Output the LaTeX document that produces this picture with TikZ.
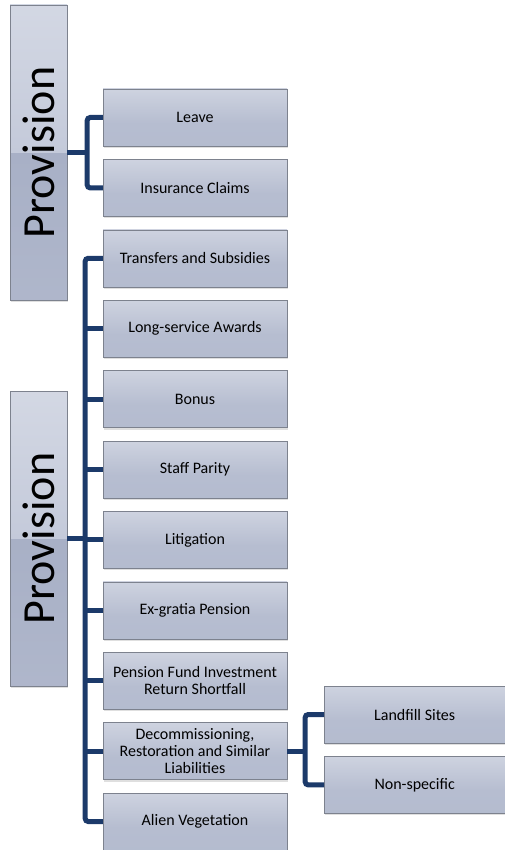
\documentclass[tikz,border=0pt]{standalone}
\usepackage{fontspec}
\setmainfont{Carlito}
\usetikzlibrary{positioning,shadows}

\definecolor{linkblue}{RGB}{28,58,106}
\definecolor{boxline}{RGB}{125,130,142}
\pgfdeclareverticalshading{childfill}{100bp}{color(0bp)=(rgb,255:red,178;green,186;blue,206);
  color(45bp)=(rgb,255:red,182;green,189;blue,208); color(100bp)=(rgb,255:red,226;green,229;blue,237)}
\pgfdeclareverticalshading{rootfill}{100bp}{color(0bp)=(rgb,255:red,182;green,189;blue,208);
  color(50bp)=(rgb,255:red,168;green,176;blue,198); color(50bp)=(rgb,255:red,196;green,202;blue,218);
  color(100bp)=(rgb,255:red,226;green,229;blue,237)}

\begin{document}
\begin{tikzpicture}[x=1pt, y=1pt,
        font=\fontsize{16}{17}\selectfont,
        node distance=13pt and 37pt,
        box/.style={draw=boxline, shading=childfill, align=center, minimum width=184pt, minimum height=57pt, inner sep=2pt,
            drop shadow={shadow xshift=1pt, shadow yshift=-2pt, opacity=0.25}},
        rootbox/.style={box, shading=rootfill, minimum width=57pt, minimum height=295pt, font=\fontsize{46}{46}\selectfont},
        link/.style={linkblue, line width=5pt, rounded corners=3pt}
        ]
        \useasboundingbox (0,0) rectangle (505,-850);

        \node[rootbox] (provA) at (38.5,-152.5) {\rotatebox{90}{Provision}};
        \node[rootbox] (provB) at (38.5,-538.5) {\rotatebox{90}{Provision}};

        \node[box] (leave) at (195,-117.5) {Leave};
        \node[box, below=of leave] (claims) {Insurance Claims};
        \node[box, below=of claims] (transfers) {Transfers and Subsidies};
        \node[box, below=of transfers] (longservice) {Long-service Awards};
        \node[box, below=of longservice] (bonus) {Bonus};
        \node[box, below=of bonus] (parity) {Staff Parity};
        \node[box, below=of parity] (litigation) {Litigation};
        \node[box, below=of litigation] (exgratia) {Ex-gratia Pension};
        \node[box, below=of exgratia] (pension) {Pension Fund Investment\\Return Shortfall};
        \node[box, below=of pension] (decom) {Decommissioning,\\Restoration and Similar\\Liabilities};
        \node[box, below=of decom] (alien) {Alien Vegetation};

        \node[box, minimum width=181pt, anchor=west] (landfill) at (324,-714.5) {Landfill Sites};
        \node[box, minimum width=181pt, below=of landfill] (nonspec) {Non-specific};

        % first provision
        \coordinate (trunkA) at ([xshift=20pt]provA.east);
        \draw[link] (provA.east) -- (trunkA);
        \draw[link] (leave.west) -| (trunkA) |- (claims.west);

        % second provision
        \coordinate (trunkB) at ([xshift=18pt]provB.east);
        \draw[link] (provB.east) -- (trunkB);
        \draw[link] (transfers.west) -| (trunkB) |- (alien.west);
        \foreach \n in {longservice,bonus,parity,litigation,exgratia,pension,decom}
            \draw[link] (trunkB |- \n.west) -- (\n.west);

        % decommissioning
        \coordinate (trunkC) at ([xshift=18pt]decom.east);
        \draw[link] (decom.east) -- (trunkC);
        \draw[link] (landfill.west) -| (trunkC) |- (nonspec.west);
\end{tikzpicture}
\end{document}
